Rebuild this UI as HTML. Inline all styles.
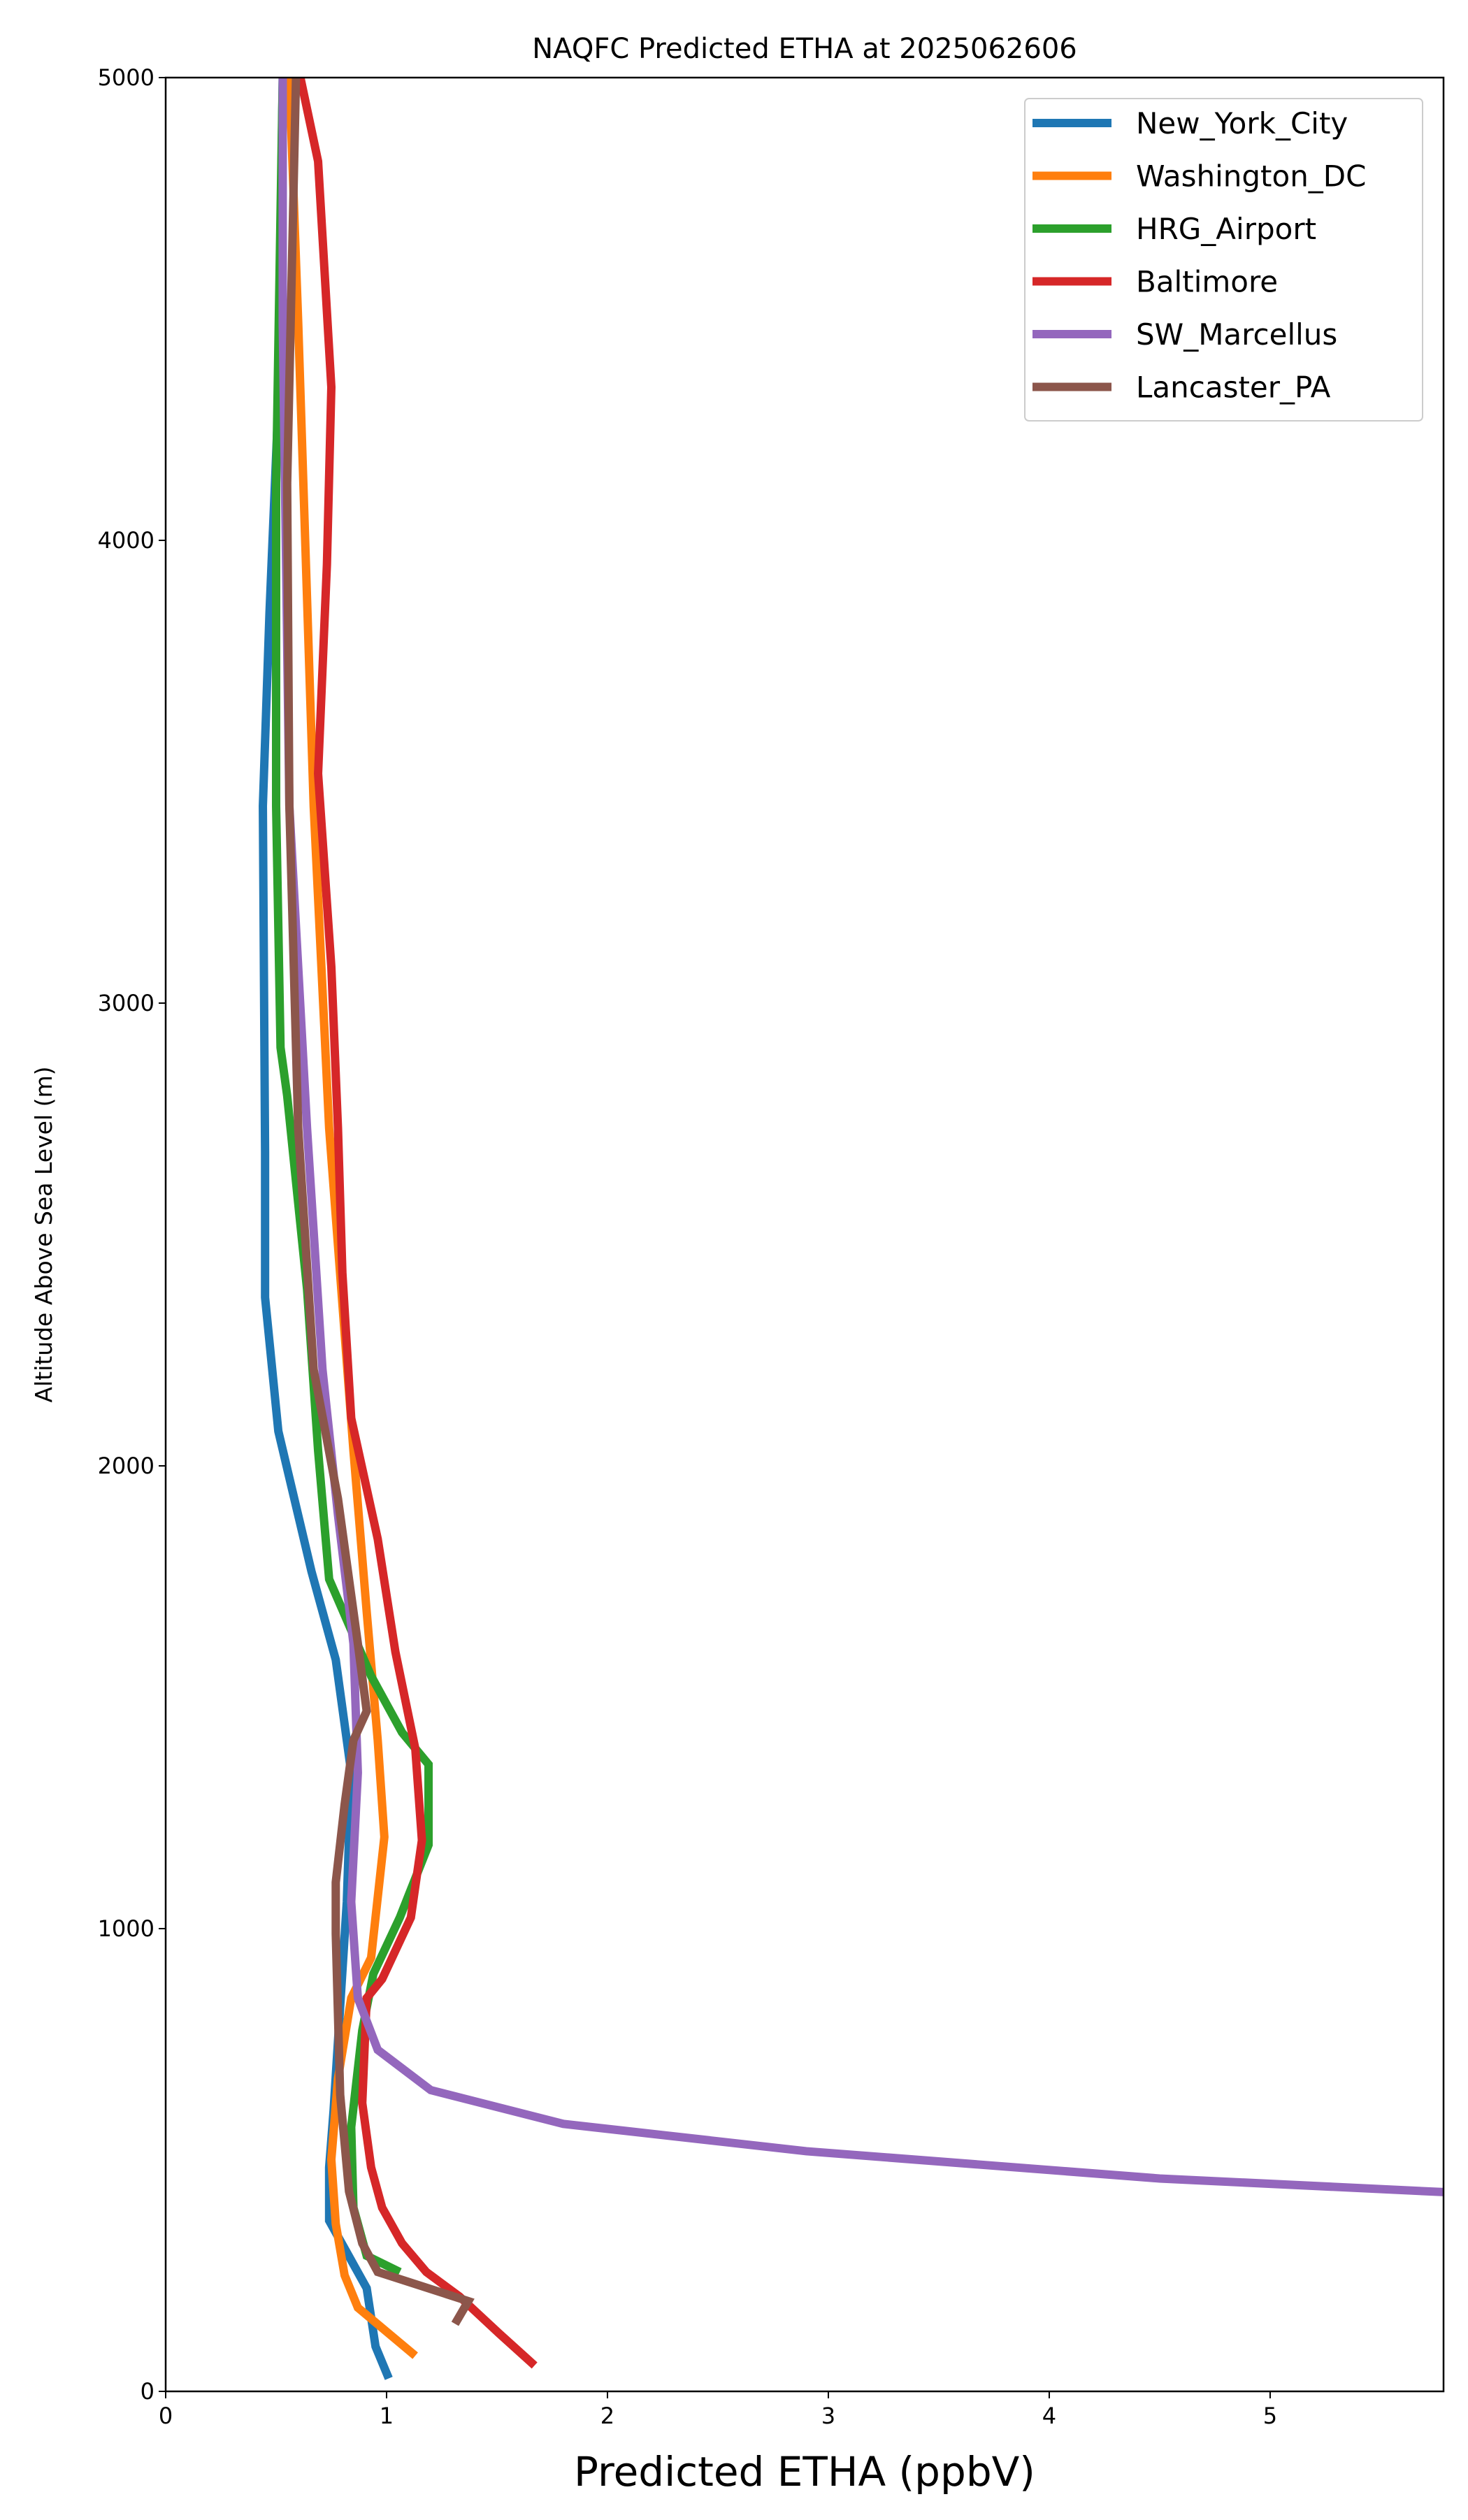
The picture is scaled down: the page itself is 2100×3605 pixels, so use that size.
<!DOCTYPE html>
<html><head><meta charset="utf-8"><style>
body{margin:0;background:#fff}
svg text{font-family:"DejaVu Sans","Liberation Sans",sans-serif}
</style></head><body>
<svg id="chart" width="2100" height="3600" viewBox="0 0 2100 3600" xmlns="http://www.w3.org/2000/svg">
<rect width="2100" height="3600" fill="#fff"/>
<text x="1151" y="83" font-size="40" text-anchor="middle">NAQFC Predicted ETHA at 2025062606</text>
<text x="0" y="0" font-size="33" text-anchor="middle" transform="translate(74,1766) rotate(-90)">Altitude Above Sea Level (m)</text>
<text x="1151" y="3556" font-size="58" text-anchor="middle">Predicted ETHA (ppbV)</text>
<g id="ticks"></g>
<g id="series" clip-path="url(#clip)"></g>
<defs><clipPath id="clip"><rect x="237" y="111" width="1828" height="3310"/></clipPath></defs>
<rect x="237" y="111" width="1828" height="3310" fill="none" stroke="#000" stroke-width="2.5"/>
<g id="legend"></g>
</svg>
<script>
const seriesNames=["New_York_City","Washington_DC","HRG_Airport","Baltimore","SW_Marcellus","Lancaster_PA"];
const colors=["#1f77b4","#ff7f0e","#2ca02c","#d62728","#9467bd","#8c564b"];
const xTicks=[0,1,2,3,4,5];
const yTicks=[0,1000,2000,3000,4000,5000];
const nycX=[1.01,0.95,0.91,0.74,0.74,0.76,0.82,0.84,0.77,0.66,0.51,0.45,0.45,0.44,0.47,0.51,0.53];
const nycY=[28,97,223,369,484,606,1058,1337,1581,1772,2075,2364,2678,3426,3844,4297,5000];
const dcX=[1.13,0.87,0.81,0.77,0.75,0.78,0.84,0.93,0.99,0.96,0.91,0.85,0.74,0.67,0.60,0.56];
const dcY=[77,181,251,362,501,676,850,937,1198,1407,1685,2033,2730,3426,4471,5000];
const hrgX=[1.06,0.91,0.85,0.84,0.89,0.94,1.06,1.19,1.19,1.07,0.93,0.74,0.69,0.64,0.55,0.52,0.50,0.50,0.53];
const hrgY=[258,293,397,571,780,902,1024,1181,1355,1424,1546,1755,2033,2382,2800,2904,3426,4123,5000];
const balX=[1.67,1.51,1.33,1.18,1.07,0.98,0.93,0.89,0.91,0.98,1.11,1.16,1.13,1.04,0.96,0.84,0.80,0.78,0.75,0.69,0.73,0.75,0.69,0.61];
const balY=[56,125,205,258,320,397,484,623,850,891,1024,1191,1389,1598,1842,2103,2417,2730,3078,3496,3948,4331,4819,5000];
const swmX=[5.9,4.5,2.9,1.80,1.20,0.96,0.87,0.84,0.87,0.85,0.78,0.71,0.64,0.56,0.53,0.53];
const swmY=[428,460,519,578,651,738,850,1058,1337,1616,1894,2208,2730,3426,4471,5000];
const lanX=[1.31,1.37,0.96,0.89,0.83,0.79,0.77,0.77,0.81,0.85,0.91,0.87,0.78,0.67,0.60,0.56,0.55,0.59];
const lanY=[146,195,258,320,432,641,989,1100,1268,1407,1470,1616,1929,2208,2730,3426,4123,5000];
const allX=[nycX,dcX,hrgX,balX,swmX,lanX], allY=[nycY,dcY,hrgY,balY,swmY,lanY];
const L=237,R=2065,T=111,B=3421,XMAX=5.785,YMAX=5000;
const sx=v=>L+v/XMAX*(R-L), sy=v=>B-v/YMAX*(B-T);
const NS="http://www.w3.org/2000/svg";
const mk=(t,a)=>{const e=document.createElementNS(NS,t);for(const k in a)e.setAttribute(k,a[k]);return e;};
const tg=document.getElementById('ticks');
xTicks.forEach(v=>{
 const l=mk('line',{x1:sx(v),x2:sx(v),y1:B,y2:B+10,stroke:'#000','stroke-width':2});
 
 
 tg.appendChild(l);
 const t=mk('text',{x:sx(v),y:B+46,'font-size':32,'text-anchor':'middle'});t.textContent=v;
 
 
 tg.appendChild(t);
});
yTicks.forEach(v=>{
 const l=mk('line',{x1:L-10,x2:L,y1:sy(v),y2:sy(v),stroke:'#000','stroke-width':2});
 
 
 tg.appendChild(l);
 const t=mk('text',{x:L-16,y:sy(v)+11,'font-size':32,'text-anchor':'end'});t.textContent=v;
 
 
 tg.appendChild(t);
});
const sg=document.getElementById('series');
allX.forEach((xs,i)=>{
 const pts=xs.map((x,j)=>sx(x)+','+sy(allY[i][j])).join(' ');
 const p=mk('polyline',{points:pts,fill:'none',stroke:colors[i],'stroke-width':12,'stroke-linejoin':'miter'});
 
 
 sg.appendChild(p);
});
const lg=document.getElementById('legend');
const box=mk('rect',{x:1466,y:141,width:569,height:461,rx:6,fill:'#fff','fill-opacity':0.8,stroke:'#ccc','stroke-width':2});


lg.appendChild(box);
seriesNames.forEach((n,i)=>{
 const y=176+i*75.5;
 const l=mk('line',{x1:1477,x2:1590,y1:y,y2:y,stroke:colors[i],'stroke-width':12});
 
 
 lg.appendChild(l);
 const t=mk('text',{x:1625,y:y+15,'font-size':42});t.textContent=n;
 
 
 lg.appendChild(t);
});
</script>
</body></html>
